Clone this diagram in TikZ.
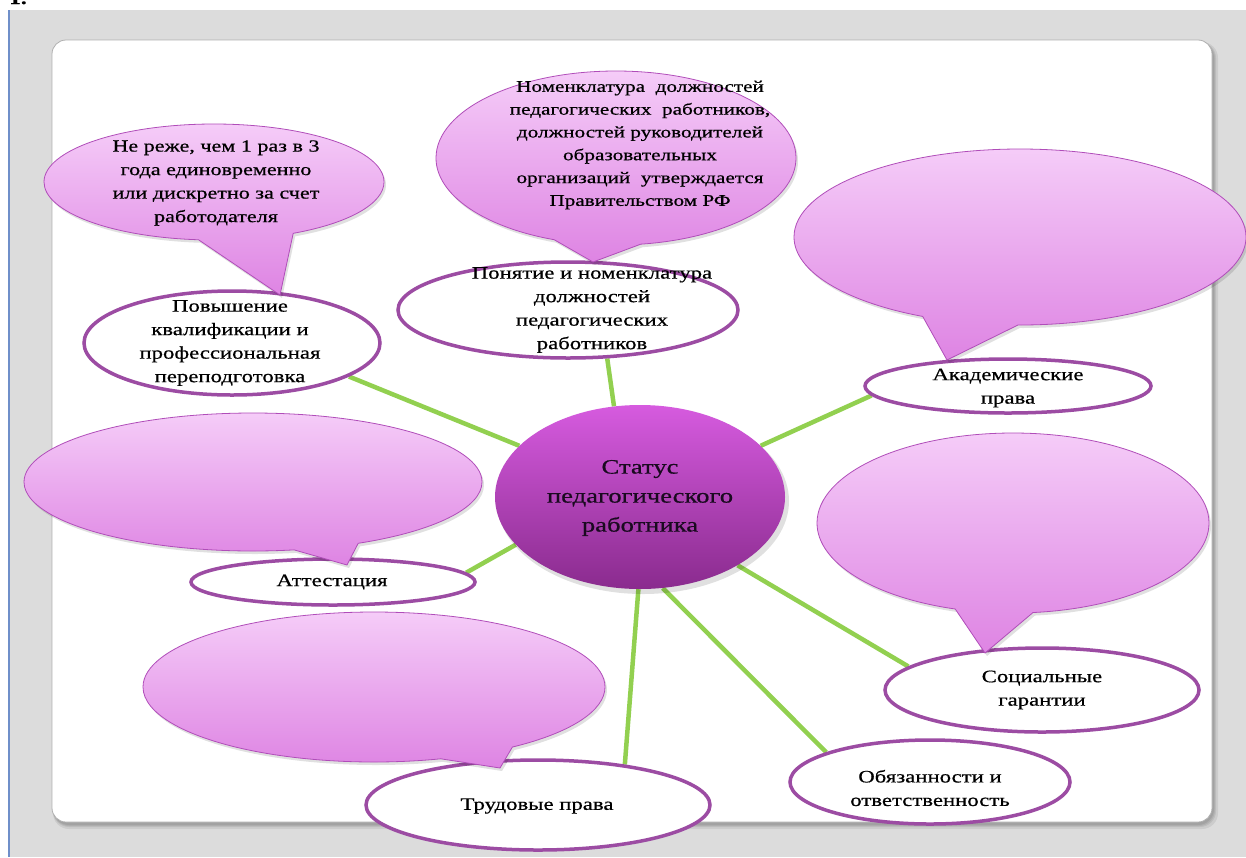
\documentclass[tikz,border=0pt]{standalone}
\usepackage{fontspec}
\setmainfont{Liberation Serif}[FakeStretch=1.3,FakeBold=0.6]
\usetikzlibrary{shapes.geometric,shapes.callouts,shadows}
\definecolor{bggray}{HTML}{DCDCDC}
\definecolor{edgeblue}{HTML}{6F8FC9}
\definecolor{paneledge}{HTML}{B0B0B0}
\definecolor{ringc}{HTML}{9C4CA3}
\definecolor{greenl}{HTML}{92D050}
\definecolor{pinktop}{HTML}{F5CCF8}
\definecolor{pinkbot}{HTML}{DE84E3}
\definecolor{pinkedge}{HTML}{B04DB9}
\definecolor{cenctop}{HTML}{D65BDF}
\definecolor{cencbot}{HTML}{8A2B8E}
\definecolor{cenctext}{HTML}{1A0A20}
\pgfdeclarelayer{back}
\pgfdeclarelayer{links}
\pgfsetlayers{back,links,main}
\begin{document}
\begin{tikzpicture}[x=1pt,y=-1pt,
 ring/.style={ellipse, draw=ringc, line width=3.5pt, fill=white, inner sep=0pt},
 bubble/.style={ellipse callout, draw=pinkedge, line width=0.8pt, top color=pinktop, bottom color=pinkbot, inner sep=0pt,
   drop shadow={shadow xshift=2pt, shadow yshift=-3pt, fill=black, opacity=0.12}},
 txt/.style={align=center, font=\fontsize{17.5}{23.5}\selectfont, inner sep=0pt},
 link/.style={greenl, line width=4.5pt},
 shad/.style={black, opacity=0.07, rounded corners=16pt},
]
\useasboundingbox (0,0) rectangle (1246,857);
\begin{pgfonlayer}{back}
 \fill[white] (0,0) rectangle (1246,857);
 \node[anchor=base west, font=\bfseries\fontsize{18}{20}\selectfont, inner sep=0pt] (num) at (9,4) {1.};
 \fill[bggray] (10,10) rectangle (1246,857);
 \fill[edgeblue] (8,10) rectangle (10,857);
 \fill[shad] (53,42) rectangle (1218,829);
 \fill[shad] (53,42) rectangle (1216,827);
 \fill[shad] (53,42) rectangle (1215,826);
 \fill[shad] (53,42) rectangle (1214,825);
 \node[rectangle, rounded corners=14pt, minimum width=1160pt, minimum height=782pt, fill=white, draw=paneledge, line width=0.8pt] (panel) at (632,431) {};
\end{pgfonlayer}

% outlined topic ellipses
\node[ring, minimum width=296pt, minimum height=104pt] (pov) at (232,343) {};
\node[ring, minimum width=340pt, minimum height=96pt] (pon) at (568,310) {};
\node[ring, minimum width=286pt, minimum height=54pt] (aka) at (1008,386) {};
\node[ring, minimum width=284pt, minimum height=46pt] (att) at (333,582) {};
\node[ring, minimum width=314pt, minimum height=84pt] (soc) at (1042,690) {};
\node[ring, minimum width=280pt, minimum height=84pt] (obz) at (930,782) {};
\node[ring, minimum width=344pt, minimum height=90pt] (trd) at (538,805) {};

% central ellipse
\fill[black, opacity=0.12] (643,501) ellipse[x radius=146pt, y radius=93pt];
\node[ellipse, minimum width=290pt, minimum height=184pt, top color=cenctop, bottom color=cencbot, inner sep=0pt] (cen) at (640,497) {};

% callouts
\node[bubble, minimum width=340pt, minimum height=116pt, callout absolute pointer={(280,295)}, callout pointer arc=33] (ba) at (214,182) {};
\node[bubble, minimum width=360pt, minimum height=174pt, callout absolute pointer={(593,262)}, callout pointer arc=28] (bb) at (616,158) {};
\node[bubble, minimum width=452pt, minimum height=176pt, callout absolute pointer={(947,360)}, callout pointer arc=25] (bc) at (1020,237) {};
\node[bubble, minimum width=458pt, minimum height=138pt, callout absolute pointer={(347,565)}, callout pointer arc=17] (bd) at (253,482) {};
\node[bubble, minimum width=392pt, minimum height=180pt, callout absolute pointer={(985,653)}, callout pointer arc=23] (be) at (1013,523) {};
\node[bubble, minimum width=462pt, minimum height=150pt, callout absolute pointer={(500,768)}, callout pointer arc=20] (bf) at (374,687) {};

% texts
\node[txt] (tpov) at (230,343) {Повышение\\квалификации и\\профессиональная\\переподготовка};
\node[txt] (tpon) at (592,310) {Понятие и номенклатура\\должностей\\педагогических\\работников};
\node[txt] (taka) at (1008,388) {Академические\\права};
\node[txt] (tatt) at (332,582) {Аттестация};
\node[txt] (tsoc) at (1042,690) {Социальные\\гарантии};
\node[txt] (tobz) at (930,788) {Обязанности и\\ответственность};
\node[txt] (ttrd) at (537,806) {Трудовые права};
\node[txt, font=\fontsize{17}{23.5}\selectfont] (tba) at (216,183) {Не реже, чем 1 раз в 3\\года единовременно\\или дискретно за счет\\работодателя};
\node[txt, font=\fontsize{16.3}{22.8}\selectfont] (tbb) at (640,145) {Номенклатура\ \ должностей\\педагогических\ \ работников,\\должностей руководителей\\образовательных\\организаций\ \ утверждается\\Правительством РФ};
\node[txt, text=cenctext, font=\fontsize{20.5}{29}\selectfont] (tcen) at (640,498) {Статус\\педагогического\\работника};

% connectors
\begin{pgfonlayer}{links}
 \draw[link] (cen.157) -- (pov.-16);
 \draw[link] (cen.106) -- (pon.-51);
 \draw[link] (cen.23) -- (aka.184);
 \draw[link] (cen.201) -- (att.4);
 \draw[link] (cen.269) -- (trd.25);
 \draw[link] (cen.284) -- (obz.164);
 \draw[link] (cen.325) -- (soc.170);
\end{pgfonlayer}
\end{tikzpicture}
\end{document}
